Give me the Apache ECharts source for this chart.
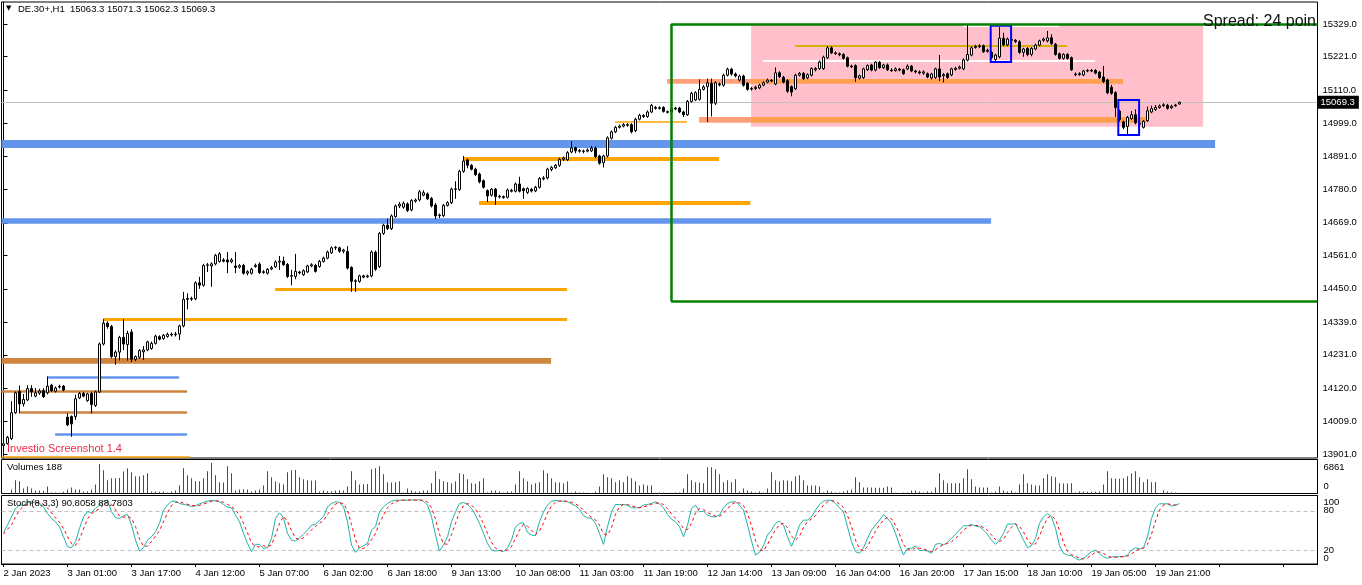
<!DOCTYPE html>
<html><head><meta charset="utf-8">
<script src="https://cdn.jsdelivr.net/npm/echarts@6/dist/echarts.min.js"></script>
<style>html,body{margin:0;padding:0;background:#fff;overflow:hidden}#c{width:1362px;height:585px}</style>
</head><body><div id="c"></div>
<script>
// ---------- data ----------
const symbolName = 'DE.30+,H1';
const sessionDays = ['2 Jan','3 Jan','4 Jan','5 Jan','6 Jan','9 Jan','10 Jan','11 Jan','12 Jan','13 Jan','16 Jan','17 Jan','18 Jan','19 Jan','20 Jan'];
const sessionFirstHour = [6,1,1,1,1,1,1,1,1,1,1,1,1,1,1];
const sessionLastHour  = [21,21,21,21,21,21,21,21,21,21,21,21,21,21,6];
const firstLabel = '2 Jan 2023';
const futureSlots = 34;

const opens = [13930,13937,13953,14039,14109,14068,14081,14119,14094,14104,14112,14105,14130,14110,14124,14127,14024,14026,14026,14088,
14103,14079,14103,14063,14108,14267,14336,14325,14225,14240,14289,14265,14307,14216,14223,14241,14247,14252,14269,14291,
14285,14292,14299,14298,14300,14327,14415,14418,14417,14470,14462,14528,14526,14533,14541,14546,14546,14540,14526,14522,
14528,14502,14502,14524,14532,14504,14502,14516,14523,14539,14542,14531,14492,14491,14506,14497,14506,14526,14528,14524,
14541,14552,14570,14586,14586,14575,14574,14521,14475,14475,14493,14490,14493,14572,14524,14634,14661,14650,14690,14725,
14721,14732,14712,14741,14745,14761,14765,14750,14728,14693,14693,14727,14736,14780,14780,14840,14878,14860,14847,14831,
14809,14776,14761,14781,14755,14756,14754,14777,14774,14798,14782,14770,14780,14775,14787,14815,14818,14846,14852,14860,
14880,14878,14904,14918,14909,14906,14907,14908,14917,14891,14869,14891,14950,14971,14986,14990,14995,14995,14975,15013,
15025,15022,15037,15052,15049,15052,15038,15037,15047,15050,15037,15028,15072,15077,15079,15112,15121,15132,15066,15130,
15126,15159,15179,15163,15143,15156,15132,15113,15115,15117,15126,15136,15142,15130,15167,15152,15141,15121,15114,15159,
15165,15150,15159,15177,15181,15181,15217,15250,15233,15230,15228,15217,15189,15191,15149,15151,15177,15193,15176,15202,
15184,15193,15176,15174,15179,15177,15180,15189,15173,15170,15166,15164,15150,15151,15180,15157,15164,15160,15178,15182,
15180,15209,15226,15251,15254,15257,15238,15235,15211,15220,15282,15260,15278,15275,15270,15235,15248,15228,15246,15259,
15275,15273,15283,15262,15230,15215,15228,15217,15163,15161,15160,15173,15175,15175,15169,15153,15143,15119,15101,15040,
15004,14989,15015,15028,14996,14986,15008,15037,15045,15052,15058,15059,15051,15057,15063.3];
const highs = [13940,13962,14077,14109,14129,14101,14130,14130,14121,14118,14120,14159,14135,14126,14132,14131,14037,14030,14099,14108,
14108,14105,14108,14112,14272,14349,14342,14330,14246,14294,14349,14311,14316,14229,14250,14260,14278,14275,14298,14296,
14300,14305,14305,14307,14331,14440,14435,14424,14475,14490,14533,14536,14538,14566,14572,14552,14572,14552,14572,14532,
14533,14512,14520,14534,14538,14512,14519,14526,14545,14559,14557,14536,14513,14566,14510,14515,14530,14535,14533,14546,
14557,14577,14591,14592,14590,14583,14592,14525,14482,14497,14497,14497,14578,14577,14639,14666,14683,14697,14730,14738,
14740,14737,14748,14750,14778,14777,14770,14755,14735,14700,14732,14741,14786,14807,14845,14891,14882,14864,14852,14836,
14813,14780,14785,14785,14762,14760,14783,14782,14803,14822,14786,14787,14785,14792,14821,14824,14852,14858,14864,14885,
14889,14907,14940,14922,14914,14912,14916,14924,14922,14895,14895,14956,14976,14991,14995,15000,15000,15000,15018,15031,
15030,15042,15064,15057,15056,15056,15042,15052,15054,15054,15041,15077,15104,15106,15145,15126,15148,15148,15139,15135,
15164,15184,15184,15168,15161,15161,15136,15120,15124,15131,15139,15148,15146,15185,15172,15157,15146,15125,15164,15170,
15170,15165,15185,15186,15208,15224,15256,15255,15238,15235,15232,15221,15194,15195,15161,15184,15195,15197,15206,15206,
15197,15198,15182,15185,15183,15181,15195,15193,15177,15175,15175,15168,15167,15184,15226,15166,15168,15184,15187,15191,
15215,15326,15255,15260,15262,15261,15247,15240,15230,15319,15300,15284,15283,15279,15275,15250,15252,15252,15264,15277,
15284,15306,15295,15266,15234,15232,15232,15221,15168,15169,15177,15179,15179,15179,15173,15190,15148,15127,15106,15045,
15008,15024,15040,15046,15004,15010,15055,15058,15060,15062,15066,15064,15061,15064,15071.3];
const lows = [13925,13933,13948,14035,14037,14059,14078,14092,14090,14098,14088,14100,14108,14106,14119,14110,13994,13959,14015,14084,
14090,14075,14037,14058,14104,14262,14318,14220,14198,14212,14247,14212,14207,14210,14218,14214,14243,14248,14265,14279,
14281,14288,14292,14292,14280,14322,14382,14410,14412,14450,14457,14506,14457,14528,14537,14538,14502,14535,14502,14517,
14497,14495,14497,14520,14499,14500,14497,14512,14519,14513,14527,14486,14462,14482,14498,14493,14502,14522,14504,14520,
14537,14548,14566,14579,14570,14568,14514,14440,14440,14470,14485,14486,14488,14510,14519,14629,14645,14645,14686,14718,
14716,14705,14707,14736,14740,14757,14745,14720,14681,14685,14688,14723,14731,14749,14775,14835,14850,14843,14825,14800,
14783,14738,14756,14729,14750,14749,14750,14770,14770,14770,14749,14765,14770,14771,14783,14810,14813,14840,14848,14855,
14874,14874,14900,14900,14902,14900,14903,14904,14884,14862,14853,14886,14945,14967,14982,14986,14988,14966,14970,15009,
15017,15018,15033,15045,15045,15035,15032,15033,15043,15033,15020,15024,15068,15073,15075,15108,15004,15022,15060,15122,
15121,15155,15158,15152,15138,15121,15108,15108,15110,15113,15122,15132,15136,15126,15150,15132,15100,15089,15110,15155,
15143,15146,15155,15172,15177,15177,15213,15229,15226,15222,15211,15185,15183,15137,15145,15147,15173,15172,15172,15180,
15180,15173,15170,15171,15172,15160,15176,15169,15165,15162,15160,15149,15145,15147,15140,15135,15147,15156,15174,15178,
15176,15205,15222,15247,15249,15233,15234,15212,15207,15215,15255,15255,15271,15266,15230,15220,15222,15222,15242,15255,
15270,15268,15260,15224,15211,15211,15211,15173,15156,15157,15156,15169,15169,15162,15147,15133,15096,15094,15021,15005,
14980,14957,15010,14996,14990,14982,15004,15033,15040,15048,15054,15045,15047,15054,15062.3];
const closes = [13936,13957,14039,14105,14068,14083,14119,14108,14105,14111,14092,14127,14112,14121,14126,14114,13999,14002,14085,14103,
14094,14101,14066,14108,14267,14336,14325,14225,14240,14289,14267,14302,14216,14225,14245,14247,14274,14269,14293,14283,
14296,14299,14297,14300,14327,14415,14418,14416,14470,14462,14528,14530,14533,14561,14566,14542,14539,14546,14521,14527,
14502,14507,14515,14528,14504,14507,14515,14520,14539,14542,14530,14491,14494,14508,14503,14510,14526,14530,14508,14541,
14552,14572,14586,14588,14575,14579,14519,14475,14477,14493,14489,14493,14572,14515,14634,14661,14650,14692,14725,14731,
14734,14710,14743,14745,14772,14769,14749,14725,14692,14695,14727,14736,14781,14782,14840,14874,14860,14847,14829,14805,
14787,14758,14781,14756,14757,14753,14778,14774,14798,14774,14776,14783,14775,14787,14816,14818,14847,14853,14860,14880,
14884,14902,14918,14908,14907,14907,14911,14917,14889,14867,14891,14951,14971,14986,14990,14995,14993,14971,15013,15026,
15022,15037,15059,15049,15051,15039,15036,15048,15050,15037,15028,15072,15099,15101,15112,15120,15134,15066,15134,15127,
15159,15179,15163,15157,15156,15126,15112,15115,15119,15126,15134,15143,15140,15167,15154,15136,15106,15103,15159,15165,
15148,15161,15181,15181,15203,15219,15250,15233,15231,15227,15215,15189,15187,15151,15157,15180,15191,15176,15202,15184,
15193,15177,15174,15180,15176,15164,15189,15173,15170,15167,15170,15153,15163,15180,15153,15161,15151,15180,15182,15186,
15210,15228,15250,15255,15257,15237,15242,15218,15226,15282,15260,15279,15275,15271,15235,15246,15228,15248,15259,15273,
15279,15283,15264,15228,15215,15228,15215,15177,15161,15164,15173,15175,15173,15166,15151,15138,15101,15099,15052,15012,
14986,15019,15028,15001,14999,15006,15041,15048,15052,15057,15061,15049,15056,15060,15069.3];

const volumes = [100,120,912,2964,2736,1140,1596,1140,684,660,600,1596,228,200,150,380,912,1368,912,880,
456,430,912,2052,6612,5244,2964,3420,3440,3460,4940,5700,4788,3876,3900,4104,4560,456,440,420,
400,228,456,684,1824,5700,4104,3420,2736,2760,3420,5016,6861,4104,2508,2480,6156,4560,684,912,
930,912,456,684,912,1824,5016,3648,2736,2280,2052,4788,5244,5260,3648,3192,2964,2940,2920,456,
700,500,480,700,720,690,1596,5016,2964,2052,2100,2150,5472,5700,6156,4332,2508,2480,2520,2736,
228,1140,684,456,430,684,700,2280,5016,3192,2736,2508,2280,2736,4560,4332,3192,2280,2200,2736,
3420,228,684,700,456,228,456,470,2052,5016,3420,2736,2052,2280,2508,5244,4560,3420,2508,2480,
2280,2736,228,456,228,200,150,140,456,1596,4332,3648,3420,2508,2964,2508,3876,3420,2736,1824,
2052,1800,1824,150,228,200,190,150,228,210,1140,4332,2964,2508,2480,2280,5928,5900,5472,4332,
2508,2964,2508,3192,456,1140,684,456,228,456,228,1140,4788,2964,2736,2964,2940,2736,3876,4104,
2964,1824,1800,1780,1596,228,684,456,228,200,456,684,912,3648,2508,1368,1350,1330,1310,1290,
1270,1596,1368,150,100,228,200,684,660,456,228,456,430,1368,4560,2964,2280,2300,2320,2340,
3420,5472,3192,1596,1368,1340,1330,228,456,1596,684,456,684,228,2052,4332,2280,2052,1824,1800,
3420,4332,3876,3648,2280,2260,2240,2280,228,456,440,420,400,380,456,2052,5016,3420,3400,3300,
3420,3876,4560,5016,3648,2508,3200,2540,2560,100,720,430,300,250,188];

const stochMain = [47.5,58.5,71,83.5,88.5,88.5,92.5,93.5,92.5,91,86,76,68.5,63.5,56,41,26,24.5,33.5,53.5,
71,78.5,77.5,83.5,88.5,94.5,96,78.5,69.5,68.5,72.5,74.5,58.5,36,19.5,24.5,36,41,48.5,61,
81,88.5,94.5,94.5,91,89.5,88.5,86.5,87.5,90.5,92.5,94.5,95.5,95,93.5,89.5,85.5,84.5,73.5,63.5,
46,31,18.5,29.5,29.5,23.5,24.5,38.5,68.5,77,69.5,46,36,34.5,39.5,44.5,51,58.5,59.5,66,
71,86,91,93.5,92.5,86,63.5,28.5,17.5,24.5,27.5,31,51,56,78.5,86,91,94.5,96,96,
96,96,96.5,96,96.5,94.5,88.5,71,43.5,19.5,28.5,41,63.5,78.5,91,92.5,89.5,83.5,73.5,61,
46,31,21,19.5,20.5,18.5,24.5,36,56,61,62,47.5,43.5,42.5,63.5,78.5,88.5,94.5,95.5,94.5,
94.5,93.5,90.5,87.5,82.5,72.5,69.5,68.5,61,46,29.5,56,78.5,89.5,89.5,89.5,88.5,84.5,84.5,84.5,
88.5,89.5,91,93.5,90.5,84.5,74.5,67.5,63.5,56,41,58.5,83.5,88.5,78.5,79.5,73.5,71,71,73.5,
84.5,91,93.5,93.5,88.5,81,58.5,34.5,13.5,17.5,27.5,43.5,51,61,64.5,58.5,41,26.5,41,58.5,
66,66,71,81,89.5,94.5,96,95.5,91,84.5,78.5,56,33.5,18.5,16,24.5,38.5,51,58.5,66,
74.5,68.5,61,46,28.5,13.5,23.5,23.5,27.5,20.5,20.5,19.5,16,29.5,31,28.5,32.5,38.5,44.5,51,
57.5,57.5,59.5,57,56,51,44.5,36,29.5,36,46,60,60,60.5,48.5,36,24.5,27.5,38.5,61,
71,76,71,53.5,27.5,16,13.5,12.5,8.5,6,8.5,13.5,18.5,20.5,16,11,8.5,10.5,11,11,
11,13.5,21,24.5,22.5,24.5,41,68.5,84.5,90.5,90.5,90.5,87,88.5,90.8058];
const stochSignal = [45,52,59,71,81,86.8,89.8,91.5,92.8,92.3,89.8,84.3,76.8,69.3,62.7,53.5,41,30.5,28,37.2,
52.7,67.7,75.7,79.8,83.2,88.8,93,89.7,81.3,72.2,70.2,71.8,68.5,56.3,38,26.7,26.7,33.8,41.8,50.2,
63.5,76.8,88,92.5,93.3,91.7,89.7,88.2,87.5,88.2,90.2,92.5,94.2,95,94.7,92.7,89.5,86.5,81.2,73.8,
61,46.8,31.8,26.3,25.8,27.5,25.8,28.8,43.8,61.3,71.7,64.2,50.5,38.8,36.7,39.5,45,51.3,56.3,61.3,
65.5,74.3,82.7,90.2,92.3,90.7,80.7,59.3,36.5,23.5,23.2,27.7,36.5,46,61.8,73.5,85.2,90.5,93.8,95.5,
96,96,96.2,96.2,96.3,95.7,93.2,84.7,67.7,44.7,30.5,29.7,44.3,61,77.7,87.3,91,88.5,82.2,72.7,
60.2,46,32.7,23.8,20.3,19.5,21.2,26.3,38.8,51,59.7,56.8,51,44.5,49.8,61.5,76.8,87.2,92.8,94.8,
94.8,94.2,92.8,90.5,86.8,80.8,74.8,70.2,66.3,58.5,45.5,43.8,54.7,74.7,85.8,89.5,89.2,87.5,85.8,84.5,
85.8,87.5,89.7,91.3,91.7,89.5,83.2,75.5,68.5,62.3,53.5,51.8,61,76.8,83.5,82.2,77.2,74.7,71.8,71.8,
76.3,83,89.7,92.7,91.8,87.7,76,58,35.5,21.8,19.5,29.5,40.7,51.8,58.8,61.3,54.7,42,36.2,42,
55.2,63.5,67.7,72.7,80.5,88.3,93.3,95.3,94.2,90.3,84.7,73,56,36,22.7,19.7,26.3,38,49.3,58.5,
66.3,69.7,68,58.5,45.2,29.3,21.8,20.2,24.8,23.8,22.8,20.2,18.7,21.7,25.5,29.7,30.7,33.2,38.5,44.7,
51,55.3,58.2,58,57.5,54.7,50.5,43.8,36.7,33.8,37.2,47.3,55.3,60.2,56.3,48.3,36.3,29.3,30.2,42.3,
56.8,69.3,72.7,66.8,50.7,32.3,19,14,11.5,9,7.7,9.3,13.5,17.5,18.3,15.8,11.8,10,10,10.8,
11,11.8,15.2,19.7,22.7,23.8,29.3,44.7,64.7,81.2,88.5,90.5,89.3,88.7,88.7803];

const priceTicks = [13901,14009,14120,14231,14339,14450,14561,14669,14780,14891,14999,15110,15221,15329];
const volumeTicks = [6861, 0];
const stochTicks = [100, 80, 20, 0];
const stochLevels = [80, 20];
const spreadText = 'Spread: 24 poin';
const watermarkText = 'Investio Screenshot 1.4';

// chart objects: [fromBar, toBar, priceTop, priceBottom]
const pinkBox    = [[186.9, 299.9, 15329, 14988]];
const salmonZones = [[165.9, 186.9, 15146.5, 15131], [173.9, 186.9, 15020, 15001]];
const orangeZonesInPink = [[186.9, 279.9, 15146.5, 15131], [186.9, 285.7, 15020, 15001]];
const blueZones  = [[-0.5, 302.9, 14944, 14917.5], [-0.5, 246.9, 14684, 14666]];
const brownZones = [[-0.5, 136.9, 14220.5, 14201.6]];
const blueBoxes  = [[246.8, 251.9, 15323.4, 15202.9], [278.7, 283.9, 15076.8, 14960.6]];
// lines: [fromBar, toBar, price]
const orangeLines = [[24.9, 140.9, 14349], [67.9, 140.9, 14447], [114.9, 178.9, 14882], [118.9, 186.7, 14736]];
const orangeThinLines = [[152.9, 170.9, 15006], [-0.5, 46.7, 13893]];
const goldLines  = [[197.9, 265.9, 15256]];
const whiteLines = [[189.9, 272.9, 15207], [239.9, 263.9, 15323.5]];
const blueLines  = [[10.9, 43.9, 14156.5], [12.9, 45.9, 13966]];
const brownLines = [[-0.5, 45.9, 14111], [3.9, 45.9, 14040]];
const greenFrame = {fromBar: 166.9, toBar: 328.5, top: 15329, bottom: 14408};

// ---------- build ----------
const categories = [];
sessionDays.forEach((d, k) => {
  for (let h = sessionFirstHour[k]; h <= sessionLastHour[k]; h++) categories.push(d + ' ' + String(h).padStart(2, '0') + ':00');
});
const nBars = categories.length;
for (let k = 0; k < futureSlots; k++) categories.push('future' + k);
const nSlots = categories.length;

const candleData = opens.map((o, i) => [o, closes[i], lows[i], highs[i]]);
const volData = volumes.map((v, i) => ({value: v, itemStyle: {color: (i > 0 && v > volumes[i - 1]) ? '#008000' : '#FF0000'}}));

const FONT = 'Liberation Sans, Arial, sans-serif';
const areaItems = (list, style) => list.map(r => [{coord: [r[0], r[2]], itemStyle: style}, {coord: [r[1], r[3]]}]);
const lineItems = (list, style) => list.map(r => [{coord: [r[0], r[2]], lineStyle: style}, {coord: [r[1], r[2]]}]);
const plain = v => String(v);

const last = nBars - 1;
const gridCommon = {left: 1.5, width: nSlots * 4, show: true, borderColor: '#000', borderWidth: 1};

const option = {
  animation: false,
  backgroundColor: '#fff',
  textStyle: {fontFamily: FONT},
  grid: [
    Object.assign({top: 2, height: 456}, gridCommon),
    Object.assign({top: 459.5, height: 34}, gridCommon),
    Object.assign({top: 495.5, height: 68.5}, gridCommon)
  ],
  xAxis: [
    {type: 'category', gridIndex: 0, data: categories, show: false},
    {type: 'category', gridIndex: 1, data: categories, show: false},
    {type: 'category', gridIndex: 2, data: categories,
      axisLine: {show: true, lineStyle: {color: '#000', width: 1}},
      axisTick: {show: true, interval: 15, alignWithLabel: true, length: 3, lineStyle: {color: '#000'}},
      axisLabel: {interval: 15, align: 'left', margin: 4, fontSize: 9.5, color: '#000', fontFamily: FONT,
        formatter: (v, i) => i === 0 ? firstLabel : (i < nBars ? v : '')},
      splitLine: {show: false}},
    {type: 'value', gridIndex: 0, min: -0.5, max: nSlots - 0.5, show: false}
  ],
  yAxis: [
    {type: 'value', gridIndex: 0, position: 'right', min: 13888.6, max: 15402.0, scale: true,
      axisLine: {show: true, lineStyle: {color: '#000'}},
      axisTick: {show: true, customValues: priceTicks, length: 4, lineStyle: {color: '#000'}},
      axisLabel: {customValues: priceTicks, formatter: v => Number(v).toFixed(1), margin: 5, fontSize: 9.5, color: '#000', fontFamily: FONT},
      splitLine: {show: false}},
    {type: 'value', gridIndex: 1, position: 'right', min: 0, max: 7650,
      axisLine: {show: true, lineStyle: {color: '#000'}}, axisTick: {show: false},
      axisLabel: {customValues: [volumeTicks[0]], formatter: plain, verticalAlign: 'top', lineHeight: 8, margin: 6, fontSize: 9.5, color: '#000', fontFamily: FONT},
      splitLine: {show: false}},
    {type: 'value', gridIndex: 1, position: 'right', min: 0, max: 7650,
      axisLine: {show: false}, axisTick: {show: false},
      axisLabel: {customValues: [volumeTicks[1]], formatter: plain, verticalAlign: 'bottom', lineHeight: 15, margin: 6, fontSize: 9.5, color: '#000', fontFamily: FONT},
      splitLine: {show: false}},
    {type: 'value', gridIndex: 2, position: 'right', min: 0, max: 103,
      axisLine: {show: true, lineStyle: {color: '#000'}}, axisTick: {show: false},
      axisLabel: {customValues: [stochTicks[1], stochTicks[2]], formatter: plain, margin: 6, fontSize: 9.5, color: '#000', fontFamily: FONT},
      splitLine: {show: false}},
    {type: 'value', gridIndex: 2, position: 'right', min: 0, max: 103,
      axisLine: {show: false}, axisTick: {show: false},
      axisLabel: {customValues: [stochTicks[0]], formatter: plain, verticalAlign: 'top', lineHeight: 10, margin: 6, fontSize: 9.5, color: '#000', fontFamily: FONT},
      splitLine: {show: false}},
    {type: 'value', gridIndex: 2, position: 'right', min: 0, max: 103,
      axisLine: {show: false}, axisTick: {show: false},
      axisLabel: {customValues: [stochTicks[3]], formatter: plain, verticalAlign: 'bottom', lineHeight: 12, margin: 6, fontSize: 9.5, color: '#000', fontFamily: FONT},
      splitLine: {show: false}}
  ],
  series: [
    {type: 'line', name: 'pink', xAxisIndex: 3, yAxisIndex: 0, data: [], silent: true,
      markArea: {silent: true, z: 1, data: areaItems(pinkBox, {color: '#FFC0CB'})}},
    {type: 'line', name: 'zones', xAxisIndex: 3, yAxisIndex: 0, data: [], silent: true,
      markArea: {silent: true, z: 1.5, data: [].concat(
        areaItems(salmonZones, {color: '#FFA07A'}),
        areaItems(orangeZonesInPink, {color: '#FFA050'}),
        areaItems(blueZones, {color: '#6495ED'}),
        areaItems(brownZones, {color: '#CD853F'}))},
      markLine: {silent: true, z: 1.8, symbol: ['none', 'none'], label: {show: false}, data: [].concat(
        lineItems(orangeLines.slice(0, 2), {color: '#FFA500', width: 3, type: 'solid'}),
        lineItems(orangeLines.slice(2), {color: '#FFA500', width: 4, type: 'solid'}),
        lineItems(orangeThinLines, {color: '#FFA500', width: 1.5, type: 'solid'}),
        lineItems(goldLines, {color: '#D4B106', width: 2, type: 'solid'}),
        lineItems(whiteLines, {color: '#FFFFFF', width: 2, type: 'solid'}),
        lineItems(blueLines, {color: '#6495ED', width: 2.5, type: 'solid'}),
        lineItems(brownLines, {color: '#CD853F', width: 2.5, type: 'solid'}))}},
    {type: 'candlestick', name: symbolName, xAxisIndex: 0, yAxisIndex: 0, data: candleData, z: 4, barWidth: 3,
      itemStyle: {color: '#FFFFFF', color0: '#000000', borderColor: '#000000', borderColor0: '#000000', borderWidth: 1},
      markLine: {silent: true, z: 1.9, symbol: ['none', 'none'],
        lineStyle: {color: '#C0C0C0', width: 1, type: 'solid'},
        label: {show: true, position: 'end', distance: 0, formatter: () => closes[last].toFixed(1),
          color: '#fff', backgroundColor: '#000', padding: [2, 4, 1, 3], fontSize: 9.5, fontFamily: FONT},
        data: [{yAxis: closes[last]}]}},
    {type: 'line', name: 'frames', xAxisIndex: 3, yAxisIndex: 0, data: [], silent: true,
      markArea: {silent: true, z: 6, data: areaItems(blueBoxes, {color: 'rgba(0,0,0,0)', borderColor: '#0000FF', borderWidth: 2})},
      markLine: {silent: true, z: 6, symbol: ['none', 'none'], label: {show: false},
        lineStyle: {color: '#008000', width: 2.5, type: 'solid'},
        data: [
          [{coord: [greenFrame.fromBar, greenFrame.top]}, {coord: [greenFrame.toBar, greenFrame.top]}],
          [{coord: [greenFrame.fromBar, greenFrame.bottom]}, {coord: [greenFrame.toBar, greenFrame.bottom]}],
          [{coord: [greenFrame.fromBar, greenFrame.top]}, {coord: [greenFrame.fromBar, greenFrame.bottom]}]
        ]}},
    {type: 'bar', name: 'Volumes', xAxisIndex: 1, yAxisIndex: 1, data: volData, barWidth: 1, silent: true},
    {type: 'line', name: 'Stoch main', xAxisIndex: 2, yAxisIndex: 3, data: stochMain, symbol: 'none', silent: true,
      lineStyle: {color: '#20B2AA', width: 1}, z: 3,
      markLine: {silent: true, z: 1, symbol: ['none', 'none'], label: {show: false},
        lineStyle: {color: '#C0C0C0', width: 1, type: [4, 3]},
        data: stochLevels.map(v => ({yAxis: v}))}},
    {type: 'line', name: 'Stoch signal', xAxisIndex: 2, yAxisIndex: 3, data: stochSignal, symbol: 'none', silent: true,
      lineStyle: {color: '#FF0000', width: 1, type: [3, 3]}, z: 4}
  ],
  graphic: [
    {type: 'text', left: 6, top: 5, z: 100, style: {text: '▼', fontSize: 7, fill: '#000', fontFamily: 'DejaVu Sans'}},
    {type: 'text', left: 18, top: 4, z: 100, style: {text: symbolName + '  ' + [opens[last], highs[last], lows[last], closes[last]].map(v => v.toFixed(1)).join(' '), fontSize: 9.5, fill: '#000', fontFamily: FONT}},
    {type: 'text', left: 1203, top: 14, z: 100, style: {text: spreadText, fontSize: 16, fill: '#111', fontFamily: FONT}},
    {type: 'text', left: 7, top: 443, z: 100, style: {text: watermarkText, fontSize: 11, fill: '#F0284A', fontFamily: FONT}},
    {type: 'text', left: 7, top: 462, z: 100, style: {text: 'Volumes ' + volumes[last], fontSize: 9.5, fill: '#000', fontFamily: FONT}},
    {type: 'text', left: 7, top: 498, z: 100, style: {text: 'Stoch(8,3,3) ' + stochMain[last].toFixed(4) + ' ' + stochSignal[last].toFixed(4), fontSize: 9.5, fill: '#000', fontFamily: FONT}}
  ]
};
const chart = echarts.init(document.getElementById('c'), null, {renderer: 'canvas'});
chart.setOption(option);
</script></body></html>
